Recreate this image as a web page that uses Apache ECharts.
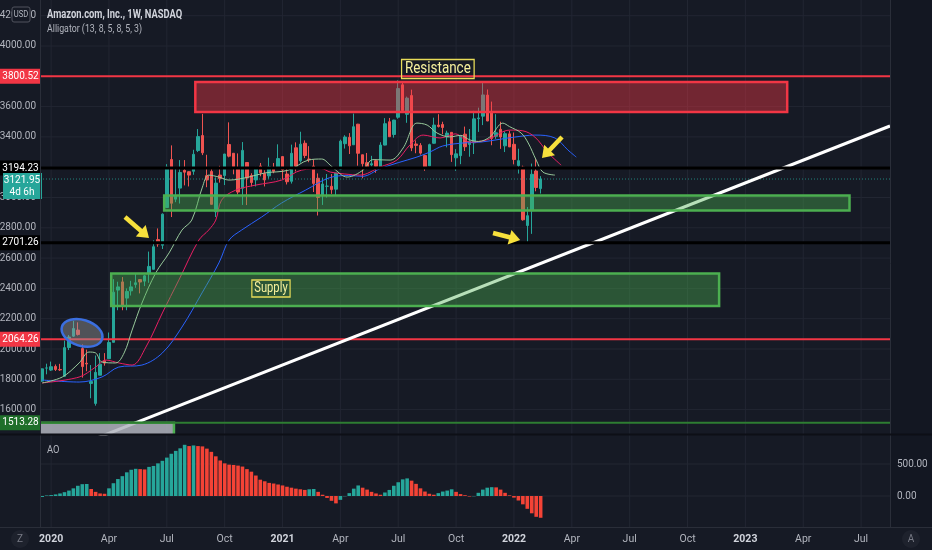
<!DOCTYPE html>
<html><head><meta charset="utf-8">
<script src="https://cdn.jsdelivr.net/npm/echarts@6/dist/echarts.min.js"></script>
<style>html,body{margin:0;padding:0;background:#161a25;}#c{width:932px;height:550px;}</style>
</head><body><div id="c"></div>
<script>
const FONT = "Roboto, 'Liberation Sans', sans-serif";

// ---- time axis: weekly bars starting Monday 2019-12-23 ----
const firstWeekUTC = Date.UTC(2019, 11, 23);
const weekCount = 191;
const MONTHS = ['Jan','Feb','Mar','Apr','May','Jun','Jul','Aug','Sep','Oct','Nov','Dec'];

// ---- weekly candles [open, high, low, close] ----
const ohlc2019 = [[1788,1870,1784,1869],[1874,1903,1833,1875]];
const ohlc2020 = [
 [1861,1917,1855,1883],[1885,1898,1855,1865],[1865,1902,1855,1862],[1820,2056,1815,2009],
 [2010,2092,1993,2079],[2085,2186,2080,2135],[2125,2176,2089,2096],[2003,2030,1811,1884],
 [1906,1996,1853,1901],[1773,1894,1675,1785],[1641,1957,1626,1846],[1827,1973,1827,1900],
 [1922,1973,1890,1907],[1936,2109,1936,2043],[2044,2461,2044,2375],[2389,2444,2256,2410],
 [2443,2475,2256,2286],[2336,2400,2256,2380],[2384,2450,2353,2410],[2425,2500,2404,2437],
 [2458,2462,2367,2442],[2448,2488,2415,2483],[2500,2643,2437,2545],[2526,2717,2526,2675],
 [2722,2796,2675,2693],[2685,2895,2660,2890],[2934,3220,2934,3200],[3251,3344,2871,2962],
 [2989,3201,2969,3009],[3062,3247,2960,3165],[3180,3247,3080,3167],[3170,3173,3073,3148],
 [3173,3315,3150,3285],[3310,3452,3300,3402],[3409,3552,3280,3295],[3144,3282,3068,3116],
 [3172,3188,2953,2955],[2906,3133,2871,3095],[3148,3209,3098,3125],[3145,3288,3082,3287],
 [3350,3496,3265,3273],[3292,3293,3153,3204],[3198,3291,3020,3036],[3061,3366,2951,3311],
 [3231,3232,2950,3129],[3145,3160,3073,3099],[3116,3202,3073,3195],[3208,3228,3140,3163],
 [3158,3180,3073,3116],[3143,3263,3124,3202],[3200,3228,3160,3173],[3195,3351,3191,3257]
];
const ohlc2021 = [
 [3270,3272,3120,3183],[3155,3190,3086,3104],[3107,3349,3092,3292],[3328,3364,3172,3206],
 [3242,3434,3230,3352],[3358,3377,3260,3277],[3254,3339,3233,3250],[3208,3250,3036,3093],
 [3127,3159,2881,3000],[3015,3131,2951,3089],[3074,3155,3000,3075],[3074,3155,3024,3052],
 [3055,3162,3014,3161],[3187,3382,3183,3372],[3355,3411,3323,3399],[3397,3425,3287,3341],
 [3348,3554,3348,3467],[3484,3486,3210,3292],[3282,3283,3127,3223],[3230,3294,3187,3203],
 [3215,3275,3206,3223],[3243,3250,3163,3206],[3197,3365,3186,3346],[3346,3524,3344,3487],
 [3500,3525,3400,3401],[3416,3513,3395,3511],[3530,3773,3520,3719],[3744,3760,3573,3574],
 [3549,3666,3493,3656],[3673,3712,3306,3327],[3353,3377,3292,3344],[3344,3359,3283,3293],
 [3277,3282,3176,3199],[3209,3355,3207,3349],[3358,3527,3355,3478],[3478,3550,3462,3469],
 [3482,3500,3418,3462],[3400,3441,3331,3425],[3430,3430,3235,3283],[3262,3319,3176,3288],
 [3276,3411,3220,3409],[3418,3468,3307,3335],[3350,3452,3269,3372],[3361,3572,3287,3519],
 [3520,3593,3433,3525],[3537,3762,3478,3677],[3676,3713,3504,3505],[3561,3633,3345,3390],
 [3404,3550,3387,3427],[3450,3500,3321,3400],[3341,3437,3300,3421],[3420,3440,3333,3334]
];
const ohlc2022 = [
 [3351,3429,3219,3251],[3211,3322,3158,3243],[3200,3210,2847,2853],[2815,2937,2707,2880],
 [2913,3224,2760,3153],[3175,3253,3041,3066],[3059,3141,3026,3122]
];

// ---- Awesome Oscillator ----
const aoValues = [
 -15,8,15,25,40,60,85,120,160,185,
 188,110,65,40,35,120,200,265,310,370,
 410,425,420,415,455,470,510,550,600,660,
 705,745,800,780,790,780,775,740,690,620,
 555,510,490,485,475,460,420,380,320,255,
 230,205,195,180,165,145,130,115,105,95,
 105,110,65,20,-30,-75,-115,-60,-5,45,
 115,165,130,100,65,40,20,55,95,160,
 215,260,275,240,190,120,70,35,20,45,
 70,85,105,65,30,12,-8,-5,50,100,
 130,138,135,100,50,10,-25,-70,-130,-200,
 -270,-325,-340
];

// ---- Alligator lines [week index, price] ----
const jawPts = [[0,1795],[8.3,1782],[13.4,1815],[17.2,1881],[22.4,1894],[27,1974],[31.4,2145],[35.9,2370],[39.7,2568],[42,2719],[44.8,2785],[49.3,2871],[53.8,2964],[59.2,3049],[64.5,3130],[68.8,3145],[72,3140],[75.9,3190],[80,3230],[84,3265],[87.1,3300],[90,3340],[94.6,3360],[98.6,3366],[103,3385],[106.2,3399],[110.7,3412],[115.2,3393],[118.1,3314],[120,3267]];
const teethPts = [[0,1776],[8.3,1815],[12,1881],[14.3,1927],[17.2,1908],[20.2,1894],[23.3,2013],[27,2238],[30.7,2455],[35.2,2719],[37.4,2785],[39,2851],[40.3,2983],[43.5,3049],[48,3082],[53.8,3115],[58.3,3181],[62.8,3190],[64.7,3168],[68,3155],[71.4,3148],[75.9,3201],[79.7,3247],[82.6,3346],[85.6,3412],[89.4,3393],[92.8,3420],[96.1,3366],[99.9,3380],[105.1,3445],[108,3440],[110.7,3399],[113.7,3294],[116.6,3214]];
const lipsPts = [[0,1776],[4.5,1815],[8.3,1908],[10.5,1980],[12,1974],[13.4,1914],[16.5,1908],[18.4,1974],[20.2,2125],[22.4,2303],[25.5,2502],[28.5,2634],[31.4,2785],[33.6,2851],[36,3069],[37.4,3148],[39.7,3135],[42,3115],[46.4,3135],[50,3162],[55.4,3181],[59.8,3247],[62.8,3254],[64.7,3214],[67.2,3150],[68.5,3135],[72.1,3181],[74.3,3250],[78.2,3247],[81.1,3327],[84.2,3491],[86.5,3478],[88.7,3426],[91.6,3400],[94,3410],[96.1,3380],[98,3370],[100.6,3400],[103.5,3491],[105,3468],[107.6,3426],[109.2,3360],[111,3247],[112.5,3168],[115.2,3148]];

// ---- axes ticks ----
const priceTicks = [1600,1800,2000,2200,2400,2600,2800,3000,3200,3400,3600,3800,4000,4200];
const aoTicks = [0, 500];

// ---- drawings ----
const redLevels = [3800.52, 2064.26];
const blackLevels = [3194.23, 2701.26];
const greenLevels = [1513.28];
const lastPrice = 3121.95;
const countdown = '4d 6h';
// zones [fromWeek, toWeek, lowPrice, highPrice]
const resistanceZone = [34.4, 167.4, 3564, 3762];
const demandZone = [27.4, 181.4, 2914, 3013];
const supplyZone = [15.5, 152.1, 2284, 2498];
const baseZone = [-3, 29.6, 1400, 1513.28];
const trendLine = [[10, 1386], [190.5, 3472]];
// arrows [tailWeek, tailPrice, tipWeek, tipPrice]
const arrows = [[18.6, 2871, 24.0, 2733], [101.3, 2766, 107.4, 2719], [116.8, 3399, 112.3, 3261]];
const circleMark = [[8.94, 2106]];
const noteTexts = ['Resistance', 'Supply'];
const notePts = [[88.9, 3848], [51.4, 2399]];

// ---------------------------------------------------------------
const candles = [].concat(ohlc2019, ohlc2020, ohlc2021, ohlc2022)
  .map((r, i) => [i, r[0], r[3], r[2], r[1]]);
function weekDate(i) { return new Date(firstWeekUTC + i * 7 * 86400000); }
const quarterTicks = [];
for (let i = 0; i < weekCount; i++) {
  const d = weekDate(i);
  if (d.getUTCMonth() % 3 === 0 && d.getUTCDate() <= 7) quarterTicks.push(i);
}
const BG = '#161a25', GRIDC = '#222632', TXT = '#b2b5be';
const UP = '#26a69a', DOWN = '#ef5350', YEL = '#f7e03c';

function hLineSeries(levels, color, width, z, dash) {
  return {
    type: 'custom', xAxisIndex: 0, yAxisIndex: 0, z: z, clip: true, silent: true,
    data: levels.map(v => [0, v]),
    renderItem(params, api) {
      const cs = params.coordSys;
      const y = api.coord([0, api.value(1)])[1];
      return { type: 'line', shape: { x1: cs.x, y1: y, x2: cs.x + cs.width, y2: y },
        style: { stroke: color, lineWidth: width, lineDash: dash || null } };
    }
  };
}
function gridSeries(xi, yi, ticks, horizontal) {
  return {
    type: 'custom', xAxisIndex: xi, yAxisIndex: yi, z: 0, clip: true, silent: true,
    data: ticks.map(v => horizontal ? [0, v] : [v, 0]),
    renderItem(params, api) {
      const cs = params.coordSys;
      if (horizontal) {
        const y = api.coord([0, api.value(1)])[1];
        return { type: 'line', shape: { x1: cs.x, y1: y, x2: cs.x + cs.width, y2: y }, style: { stroke: GRIDC, lineWidth: 1 } };
      }
      const x = api.coord([api.value(0), 0])[0];
      return { type: 'line', shape: { x1: x, y1: cs.y, x2: x, y2: cs.y + cs.height }, style: { stroke: GRIDC, lineWidth: 1 } };
    }
  };
}
const zoneStyles = [
  { fill: 'rgba(242,54,69,0.42)', stroke: '#f23645' },
  { fill: 'rgba(76,175,80,0.40)', stroke: '#4caf50' },
  { fill: 'rgba(76,175,80,0.40)', stroke: '#4caf50' },
  { fill: 'rgba(178,181,190,0.85)', stroke: '#4caf50' }
];
const axisBoxes = [
  { v: redLevels[0], bg: '#f23645', text: redLevels[0].toFixed(2) },
  { v: blackLevels[0], bg: '#000000', text: blackLevels[0].toFixed(2) },
  { v: lastPrice, bg: '#26a69a', text: lastPrice.toFixed(2) + '\n' + countdown, two: true },
  { v: blackLevels[1], bg: '#000000', text: blackLevels[1].toFixed(2) },
  { v: redLevels[1], bg: '#f23645', text: redLevels[1].toFixed(2) },
  { v: greenLevels[0], bg: '#1f6f2a', text: greenLevels[0].toFixed(2) }
];
const gridBase = { left: 40, right: 42, containLabel: false, outerBoundsMode: 'none' };

const option = {
  backgroundColor: BG,
  animation: false,
  grid: [
    Object.assign({ top: 0, height: 434 }, gridBase),
    Object.assign({ top: 435, height: 92 }, gridBase)
  ],
  xAxis: [
    { type: 'value', gridIndex: 0, min: -0.5, max: weekCount - 0.5,
      axisLabel: { show: false }, axisTick: { show: false }, axisLine: { show: false }, splitLine: { show: false } },
    { type: 'value', gridIndex: 1, min: -0.5, max: weekCount - 0.5,
      axisTick: { show: false }, axisLine: { show: false }, splitLine: { show: false },
      axisLabel: {
        customValues: quarterTicks, margin: 7,
        formatter(v) {
          const d = weekDate(Math.round(v));
          return d.getUTCMonth() === 0 ? '{y|' + d.getUTCFullYear() + '}' : '{m|' + MONTHS[d.getUTCMonth()] + '}';
        },
        rich: {
          y: { color: '#d1d4dc', fontWeight: 'bold', fontSize: 10.5, fontFamily: FONT },
          m: { color: TXT, fontSize: 10.5, fontFamily: FONT }
        }
      } }
  ],
  yAxis: [
    { type: 'value', gridIndex: 0, position: 'left', min: 1439, max: 4303.6,
      axisLine: { show: false }, axisTick: { show: false }, splitLine: { show: false },
      axisLabel: { customValues: priceTicks, color: TXT, fontSize: 10, fontFamily: FONT, margin: 4,
        formatter: v => Number(v).toFixed(2) } },
    { type: 'value', gridIndex: 1, position: 'right', min: -484, max: 953,
      axisLine: { show: false }, axisTick: { show: false }, splitLine: { show: false },
      axisLabel: { customValues: aoTicks, color: TXT, fontSize: 10, fontFamily: FONT, margin: 7,
        formatter: v => Number(v).toFixed(2) } }
  ],
  series: [
    gridSeries(0, 0, priceTicks, true),
    gridSeries(0, 0, quarterTicks, false),
    gridSeries(1, 1, aoTicks, true),
    gridSeries(1, 1, quarterTicks, false),
    {
      type: 'candlestick', xAxisIndex: 0, yAxisIndex: 0, z: 2, silent: true,
      barWidth: 3, data: candles,
      itemStyle: { color: UP, color0: DOWN, borderColor: UP, borderColor0: DOWN, borderWidth: 1 }
    },
    { type: 'line', xAxisIndex: 0, yAxisIndex: 0, z: 3, data: jawPts, smooth: 0.35, showSymbol: false, silent: true,
      lineStyle: { color: '#2962ff', width: 1 } },
    { type: 'line', xAxisIndex: 0, yAxisIndex: 0, z: 3, data: teethPts, smooth: 0.35, showSymbol: false, silent: true,
      lineStyle: { color: '#e91e63', width: 1 } },
    { type: 'line', xAxisIndex: 0, yAxisIndex: 0, z: 3, data: lipsPts, smooth: 0.35, showSymbol: false, silent: true,
      lineStyle: { color: '#98c99b', width: 1 } },
    hLineSeries(redLevels, '#f23645', 2, 3),
    hLineSeries([lastPrice], 'rgba(38,166,154,0.75)', 1, 3, [1, 2]),
    { type: 'line', xAxisIndex: 0, yAxisIndex: 0, z: 4, data: trendLine, showSymbol: false, silent: true,
      lineStyle: { color: '#ffffff', width: 3 } },
    {
      type: 'custom', xAxisIndex: 0, yAxisIndex: 0, z: 5, clip: true, silent: true,
      data: [resistanceZone, demandZone, supplyZone, baseZone],
      renderItem(params, api) {
        const a = api.coord([api.value(0), api.value(3)]);
        const b = api.coord([api.value(1), api.value(2)]);
        const st = zoneStyles[params.dataIndex];
        return { type: 'rect', shape: { x: a[0], y: a[1], width: b[0] - a[0], height: b[1] - a[1] },
          style: { fill: st.fill, stroke: st.stroke, lineWidth: 2.5 } };
      }
    },
    hLineSeries(greenLevels, '#2e7d32', 2, 6),
    hLineSeries(blackLevels, '#000000', 3, 6),
    {
      type: 'custom', xAxisIndex: 0, yAxisIndex: 0, z: 7, clip: true, silent: true,
      data: arrows,
      renderItem(params, api) {
        const t = api.coord([api.value(0), api.value(1)]);
        const h = api.coord([api.value(2), api.value(3)]);
        const dx = h[0] - t[0], dy = h[1] - t[1], len = Math.hypot(dx, dy);
        const ux = dx / len, uy = dy / len, nx = -uy, ny = ux;
        const L = 11, W = 7.5, bx = h[0] - ux * L, by = h[1] - uy * L;
        return { type: 'group', children: [
          { type: 'line', shape: { x1: t[0], y1: t[1], x2: bx + ux * 2, y2: by + uy * 2 }, style: { stroke: YEL, lineWidth: 4.5 } },
          { type: 'polygon', shape: { points: [[h[0], h[1]], [bx + nx * W, by + ny * W], [bx - nx * W, by - ny * W]] }, style: { fill: YEL } }
        ] };
      }
    },
    {
      type: 'custom', xAxisIndex: 0, yAxisIndex: 0, z: 7, clip: true, silent: true,
      data: circleMark,
      renderItem(params, api) {
        const c = api.coord([api.value(0), api.value(1)]);
        return { type: 'ellipse', x: c[0], y: c[1], rotation: -0.3, shape: { cx: 0, cy: 0, rx: 21, ry: 13 },
          style: { fill: 'rgba(150,150,150,0.45)', stroke: '#3b6fe0', lineWidth: 2.5 } };
      }
    },
    {
      type: 'custom', xAxisIndex: 0, yAxisIndex: 0, z: 7, clip: false, silent: true,
      data: notePts,
      renderItem(params, api) {
        const p = api.coord([api.value(0), api.value(1)]);
        const big = params.dataIndex === 0;
        return { type: 'text', x: p[0], y: p[1], scaleX: big ? 0.84 : 0.8, style: {
          text: noteTexts[params.dataIndex], fill: '#f6f09c', font: (big ? '16px ' : '14px ') + FONT,
          align: 'center', verticalAlign: 'middle', borderColor: '#e8dc58', borderWidth: 1.5,
          padding: big ? [2, 4, 1, 4] : [2, 3, 1, 3] } };
      }
    },
    {
      type: 'custom', xAxisIndex: 0, yAxisIndex: 0, z: 10, clip: false, silent: true,
      data: axisBoxes.map(b => [0, b.v]),
      renderItem(params, api) {
        const b = axisBoxes[params.dataIndex];
        const y = api.coord([0, api.value(1)])[1];
        if (b.two) {
          return { type: 'group', children: [
            { type: 'rect', shape: { x: 3, y: y - 6, width: 39, height: 26 }, style: { fill: b.bg } },
            { type: 'text', x: 22, y: y + 7, style: { text: b.text, fill: '#ffffff', font: '10px ' + FONT,
              align: 'center', verticalAlign: 'middle', lineHeight: 12 } }
          ] };
        }
        return { type: 'group', children: [
          { type: 'rect', shape: { x: 0, y: y - 7.5, width: 41, height: 15 }, style: { fill: b.bg } },
          { type: 'text', x: 20.5, y: y, style: { text: b.text, fill: '#ffffff', font: '10px ' + FONT,
            align: 'center', verticalAlign: 'middle' } }
        ] };
      }
    },
    {
      type: 'bar', xAxisIndex: 1, yAxisIndex: 1, barWidth: 3.6, silent: true,
      data: aoValues.map((v, i) => [i, v]),
      itemStyle: { color: p => (p.dataIndex > 0 && aoValues[p.dataIndex] < aoValues[p.dataIndex - 1]) ? '#f44336' : UP }
    }
  ],
  graphic: [
    { type: 'rect', z: -1, silent: true, shape: { x: 890, y: 0, width: 42, height: 527 }, style: { fill: '#131722' } },
    { type: 'line', z: 50, silent: true, shape: { x1: 40.5, y1: 0, x2: 40.5, y2: 527 }, style: { stroke: '#2a2e39', lineWidth: 1 } },
    { type: 'line', z: 50, silent: true, shape: { x1: 890.5, y1: 0, x2: 890.5, y2: 527 }, style: { stroke: '#2a2e39', lineWidth: 1 } },
    { type: 'line', z: 50, silent: true, shape: { x1: 0, y1: 434.5, x2: 932, y2: 434.5 }, style: { stroke: '#0d0f16', lineWidth: 2 } },
    { type: 'line', z: 50, silent: true, shape: { x1: 0, y1: 527.5, x2: 932, y2: 527.5 }, style: { stroke: '#2a2e39', lineWidth: 1 } },
    { type: 'rect', z: 50, silent: true, shape: { x: 12, y: 7, width: 18, height: 15, r: 2 }, style: { fill: BG, stroke: '#50535e', lineWidth: 1 } },
    { type: 'text', z: 51, silent: true, x: 21, y: 14.5, scaleX: 0.85, style: { text: 'USD', fill: TXT, font: '9px ' + FONT, align: 'center', verticalAlign: 'middle' } },
    { type: 'text', z: 51, silent: true, x: 47, y: 15, scaleX: 0.78, style: { text: 'Amazon.com, Inc., 1W, NASDAQ', fill: '#d1d4dc', font: 'bold 12px ' + FONT, verticalAlign: 'middle' } },
    { type: 'text', z: 51, silent: true, x: 47, y: 29.5, scaleX: 0.8, style: { text: 'Alligator (13, 8, 5, 8, 5, 3)', fill: TXT, font: '11px ' + FONT, verticalAlign: 'middle' } },
    { type: 'text', z: 51, silent: true, x: 47, y: 450, scaleX: 0.85, style: { text: 'AO', fill: TXT, font: '11px ' + FONT, verticalAlign: 'middle' } },
    { type: 'circle', z: 51, silent: true, shape: { cx: 20, cy: 539, r: 9 }, style: { fill: '#1e222d' } },
    { type: 'text', z: 52, silent: true, x: 20, y: 539, style: { text: 'Z', fill: '#787b86', font: '10px ' + FONT, align: 'center', verticalAlign: 'middle' } },
    { type: 'circle', z: 51, silent: true, shape: { cx: 911, cy: 539, r: 9 }, style: { fill: '#1e222d' } },
    { type: 'text', z: 52, silent: true, x: 911, y: 539, style: { text: 'A', fill: '#787b86', font: '10px ' + FONT, align: 'center', verticalAlign: 'middle' } }
  ]
};
const chart = echarts.init(document.getElementById('c'));
chart.setOption(option);
</script></body></html>
